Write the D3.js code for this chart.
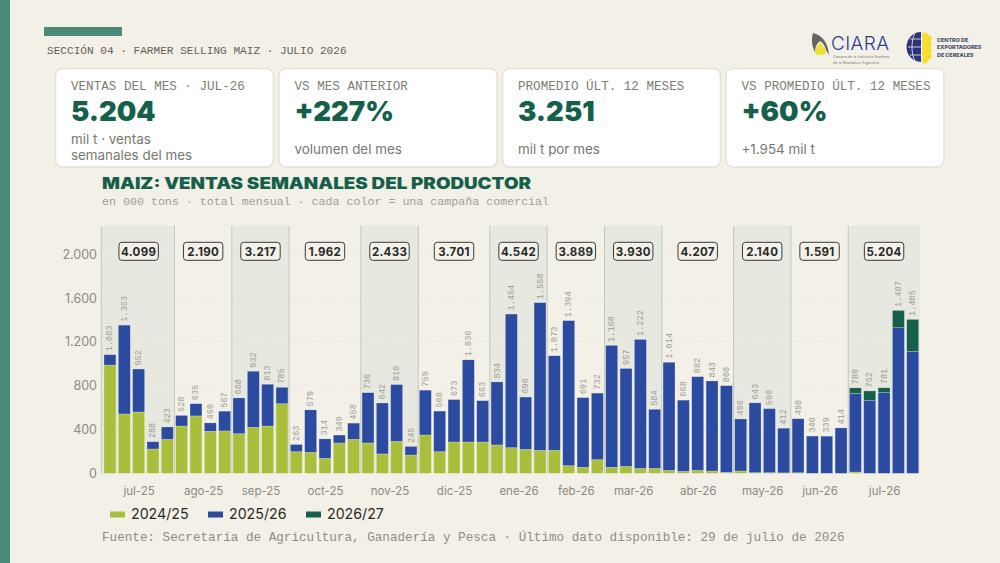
<!DOCTYPE html>
<html>
<head>
<meta charset="utf-8">
<script src="https://cdn.jsdelivr.net/npm/d3@7"></script>
<style>
  html, body { margin: 0; padding: 0; background: #f3f0e8; }
  svg { display: block; }
  .mono { font-family: "Liberation Mono", monospace; }
  .sans { font-family: Inter, sans-serif; }
  .heavy { font-family: Inter, sans-serif; font-weight: 900; fill: #14604a; }
</style>
</head>
<body>
<div id="chart"></div>
<script>
const months = ["jul-25","ago-25","sep-25","oct-25","nov-25","dic-25","ene-26","feb-26","mar-26","abr-26","may-26","jun-26","jul-26"];
const weeksPerMonth = [5,4,4,5,4,5,4,4,4,5,4,4,5];
const monthTotals = [4099,2190,3217,1962,2433,3701,4542,3889,3930,4207,2140,1591,5204];

const camp2425 = [989,542,560,222,310, 432,524,384,387, 362,420,432,636, 198,192,137,277,310, 277,177,292,167,
  350,198,286,286,286, 259,234,219,210, 210,70,55,125, 55,64,45,45, 27,18,27,21,9, 21,6,6,4, 5,0,0,0, 12,0,0,0,0];
const camp2526 = [94,811,392,66,113, 96,111,76,180, 326,512,381,149, 65,387,177,72,148, 459,465,518,78,
  409,370,387,750,377, 575,1220,477,1348, 863,1324,636,607, 1113,893,1177,539, 987,650,855,822,791, 475,637,584,408, 493,340,339,414, 718,667,740,1330,1114];
const camp2627 = [0,0,0,0,0, 0,0,0,0, 0,0,0,0, 0,0,0,0,0, 0,0,0,0,
  0,0,0,0,0, 0,0,0,0, 0,0,0,0, 0,0,0,0, 0,0,0,0,0, 0,0,0,0, 0,0,0,0, 50,85,41,157,291];

const campaigns = ["2024/25","2025/26","2026/27"];
const campColors = ["#a9bf3c","#2b4ba0","#14604a"];
const yTicks = [0,400,800,1200,1600,2000];

const cardLabels = ["VENTAS DEL MES · JUL-26","VS MES ANTERIOR","PROMEDIO ÚLT. 12 MESES","VS PROMEDIO ÚLT. 12 MESES"];
const cardValues = ["5.204","+227%","3.251","+60%"];
const cardNotes = [["mil t · ventas","semanales del mes"],["volumen del mes"],["mil t por mes"],["+1.954 mil t"]];

const esLocale = d3.formatLocale({decimal: ",", thousands: ".", grouping: [3], currency: ["$",""]});
const fmt = esLocale.format(",d");

const svg = d3.select("#chart").append("svg").attr("width", 1000).attr("height", 563);

svg.append("rect").attr("width", 1000).attr("height", 563).attr("fill", "#f3f0e8");
svg.append("rect").attr("width", 10).attr("height", 563).attr("fill", "#4a8a78");
svg.append("rect").attr("x", 44).attr("y", 27).attr("width", 78).attr("height", 9).attr("fill", "#4a8a78");

svg.append("text").attr("class", "mono").attr("x", 47).attr("y", 53.5)
  .attr("font-size", 11.1).attr("fill", "#65615a")
  .text("SECCIÓN 04 · FARMER SELLING MAIZ · JULIO 2026");

// cards
const cardX = [55.5, 279, 502.5, 726];
const cards = svg.selectAll("g.card").data(cardLabels).enter().append("g")
  .attr("class", "card")
  .attr("transform", (d, i) => `translate(${cardX[i]},68.5)`);
cards.append("rect").attr("width", 218).attr("height", 98.5).attr("rx", 7)
  .attr("fill", "#fff").attr("stroke", "#e6e1d5").attr("stroke-width", 1.5);
cards.append("text").attr("class", "mono").attr("x", 15.5).attr("y", 21.5)
  .attr("font-size", 12.6).attr("fill", "#7d7d74").text(d => d);
cards.append("text").attr("class", "heavy").attr("x", 15.5).attr("y", 52)
  .attr("font-size", 27.5).text((d, i) => cardValues[i]);
cards.each(function(d, i) {
  const notes = cardNotes[i];
  d3.select(this).selectAll("text.note").data(notes).enter().append("text")
    .attr("class", "note sans").attr("x", 15.5)
    .attr("y", (n, j) => notes.length > 1 ? 75.5 + j * 15.5 : 85.5)
    .attr("font-size", 13.4).attr("fill", "#77776f").text(n => n);
});

// titles
svg.append("text").attr("class", "heavy").attr("x", 102).attr("y", 188.5)
  .attr("font-size", 15.5).attr("textLength", 429).attr("lengthAdjust", "spacingAndGlyphs")
  .text("MAIZ: VENTAS SEMANALES DEL PRODUCTOR");
svg.append("text").attr("class", "mono").attr("x", 102).attr("y", 205)
  .attr("font-size", 11.65).attr("fill", "#a09f94")
  .text("en 000 tons · total mensual · cada color = una campaña comercial");

// chart
const weeks = d3.range(camp2425.length);
const x = d3.scaleBand().domain(weeks).range([102.8, 919.9]).paddingInner(0.17).paddingOuter(0.085);
const y = d3.scaleLinear().domain([0, 2260]).range([473.3, 225.8]);
const step = x.step();

const rows = weeks.map(i => ({week: i, "2024/25": camp2425[i], "2025/26": camp2526[i], "2026/27": camp2627[i]}));
const stacked = d3.stack().keys(campaigns)(rows);

let cursor = 0;
const monthSpans = months.map((m, i) => {
  const first = cursor;
  cursor += weeksPerMonth[i];
  const x0 = x.range()[0] + first * step;
  const x1 = x.range()[0] + cursor * step;
  return {month: m, total: monthTotals[i], x0: i === 0 ? x0 - 1.5 : x0, x1: x1, cx: (x0 + x1) / 2, odd: i % 2 === 0};
});

// shaded months
svg.selectAll("rect.shade").data(monthSpans.filter(d => d.odd)).enter().append("rect")
  .attr("class", "shade")
  .attr("x", d => d.x0).attr("width", d => d.x1 - d.x0)
  .attr("y", y.range()[1]).attr("height", y.range()[0] - y.range()[1])
  .attr("fill", "#e7e8e0");

// gridlines
svg.append("g").selectAll("line").data(yTicks.slice(1)).enter().append("line")
  .attr("x1", 101).attr("x2", 920).attr("y1", d => y(d)).attr("y2", d => y(d))
  .attr("stroke", "#dedcd2").attr("stroke-width", 0.6).attr("stroke-dasharray", "1,2");

// month dividers
svg.append("g").selectAll("line").data(monthSpans).enter().append("line")
  .attr("x1", d => d.x0).attr("x2", d => d.x0)
  .attr("y1", y.range()[1]).attr("y2", y.range()[0])
  .attr("stroke", "#c3c7bc").attr("stroke-width", 1);

// bars
svg.append("g").selectAll("g").data(stacked).enter().append("g")
  .attr("fill", (d, i) => campColors[i])
  .selectAll("rect").data(d => d.filter(s => s[1] > s[0])).enter().append("rect")
  .attr("x", d => x(d.data.week)).attr("width", x.bandwidth())
  .attr("y", d => y(d[1])).attr("height", d => y(d[0]) - y(d[1]))
  .attr("stroke", "#f3f0e8").attr("stroke-opacity", 0.45).attr("stroke-width", 0.5);

// week labels
svg.append("g").selectAll("text").data(rows).enter().append("text")
  .attr("class", "mono")
  .attr("transform", d => `translate(${x(d.week) + x.bandwidth() / 2 + 2.5},${y(d["2024/25"] + d["2025/26"] + d["2026/27"]) - 3.5}) rotate(-90)`)
  .attr("font-size", 8.6).attr("fill", "#9d9d93")
  .text(d => fmt(d["2024/25"] + d["2025/26"] + d["2026/27"]));

// month totals
const boxes = svg.append("g").selectAll("g").data(monthSpans).enter().append("g")
  .attr("transform", d => `translate(${d.cx},251.3)`);
boxes.append("rect").attr("x", -19.7).attr("y", -9).attr("width", 39.4).attr("height", 18).attr("rx", 3)
  .attr("fill", "#f3f1e9").attr("stroke", "#3a3a36").attr("stroke-width", 1);
boxes.append("text").attr("class", "sans").attr("text-anchor", "middle").attr("y", 4.2)
  .attr("font-size", 11.5).attr("font-weight", 700).attr("letter-spacing", 0.3).attr("fill", "#2a2a28")
  .text(d => fmt(d.total));

// axes
const yAxis = d3.axisLeft(y).tickValues(yTicks).tickFormat(fmt).tickSize(0).tickPadding(4);
svg.append("g").attr("transform", "translate(101,0)").call(yAxis)
  .call(g => g.select(".domain").remove())
  .call(g => g.selectAll("text").attr("font-size", 12.5).attr("fill", "#8b8b82").attr("font-family", "Inter, sans-serif"));

const xMonth = d3.scaleOrdinal().domain(months).range(monthSpans.map(d => d.cx));
const xAxis = d3.axisBottom(xMonth).tickSize(0).tickPadding(8);
svg.append("g").attr("transform", "translate(0,478.5)").call(xAxis)
  .call(g => g.select(".domain").remove())
  .call(g => g.selectAll("text").attr("font-size", 11.5).attr("fill", "#8b8b82").attr("font-family", "Inter, sans-serif"));

// legend
const legendX = [110, 208, 306];
const legend = svg.append("g").selectAll("g").data(campaigns).enter().append("g")
  .attr("transform", (d, i) => `translate(${legendX[i]},0)`);
legend.append("rect").attr("y", 511.5).attr("width", 15).attr("height", 6).attr("fill", (d, i) => campColors[i]);
legend.append("text").attr("class", "sans").attr("x", 21).attr("y", 519)
  .attr("font-size", 14.2).attr("fill", "#2a2a28").text(d => d);

svg.append("text").attr("class", "mono").attr("x", 102).attr("y", 541)
  .attr("font-size", 12.63).attr("fill", "#8e8e83")
  .text("Fuente: Secretaría de Agricultura, Ganadería y Pesca · Último dato disponible: 29 de julio de 2026");

// CIARA logo
const logo1 = svg.append("g");
logo1.append("path").attr("d", "M813 33 C821 35 828 41 829 55 L826 50 C825 45 822 42 820 41 C816 44 815 49 815 52 C812 47 811 39 813 33 Z").attr("fill", "#66655f");
logo1.append("path").attr("d", "M820 42 C823 46 826 49 826 52 C826 55 823 55 820 55 C817 55 815 54 815 51 C815 48 818 46 820 42 Z").attr("fill", "#f2df3a");
logo1.append("text").attr("class", "sans").attr("x", 831).attr("y", 49.5).attr("font-size", 19).attr("font-weight", 300).attr("fill", "#2f3b8f").attr("textLength", 58).text("CIARA");
logo1.append("text").attr("class", "sans").attr("x", 833).attr("y", 58).attr("font-size", 3.6).attr("fill", "#77776f").attr("textLength", 56).text("Cámara de la Industria Aceitera");
logo1.append("text").attr("class", "sans").attr("x", 833).attr("y", 63.5).attr("font-size", 3.6).attr("fill", "#77776f").attr("textLength", 46).text("de la República Argentina");

// Centro de Exportadores logo
const logo2 = svg.append("g");
logo2.append("path").attr("d", "M921 32 A14.5 15 0 0 0 921 62 Z").attr("fill", "#2b3280");
logo2.append("path").attr("d", "M908 47 H921 M910 39 H921 M910 55 H921 M915 33 C911 40 911 54 915 61").attr("stroke", "#f3f0e8").attr("stroke-width", 0.8).attr("fill", "none");
const grainY = [36, 42, 48, 54, 60];
logo2.selectAll("ellipse.l").data(grainY).enter().append("ellipse").attr("cx", 925).attr("cy", d => d).attr("rx", 3).attr("ry", 3.4).attr("fill", "#f3de2e");
logo2.selectAll("ellipse.r").data(grainY.slice(0, 4)).enter().append("ellipse").attr("cx", 929).attr("cy", d => d + 2.5).attr("rx", 2.6).attr("ry", 3.2).attr("fill", "#f3de2e");
logo2.selectAll("text").data(["CENTRO DE","EXPORTADORES","DE CEREALES"]).enter().append("text")
  .attr("class", "sans").attr("x", 937).attr("y", (d, i) => 41.5 + i * 7.5)
  .attr("font-size", 5.4).attr("font-weight", 800).attr("fill", "#4a4f6a").text(d => d);
</script>
</body>
</html>
